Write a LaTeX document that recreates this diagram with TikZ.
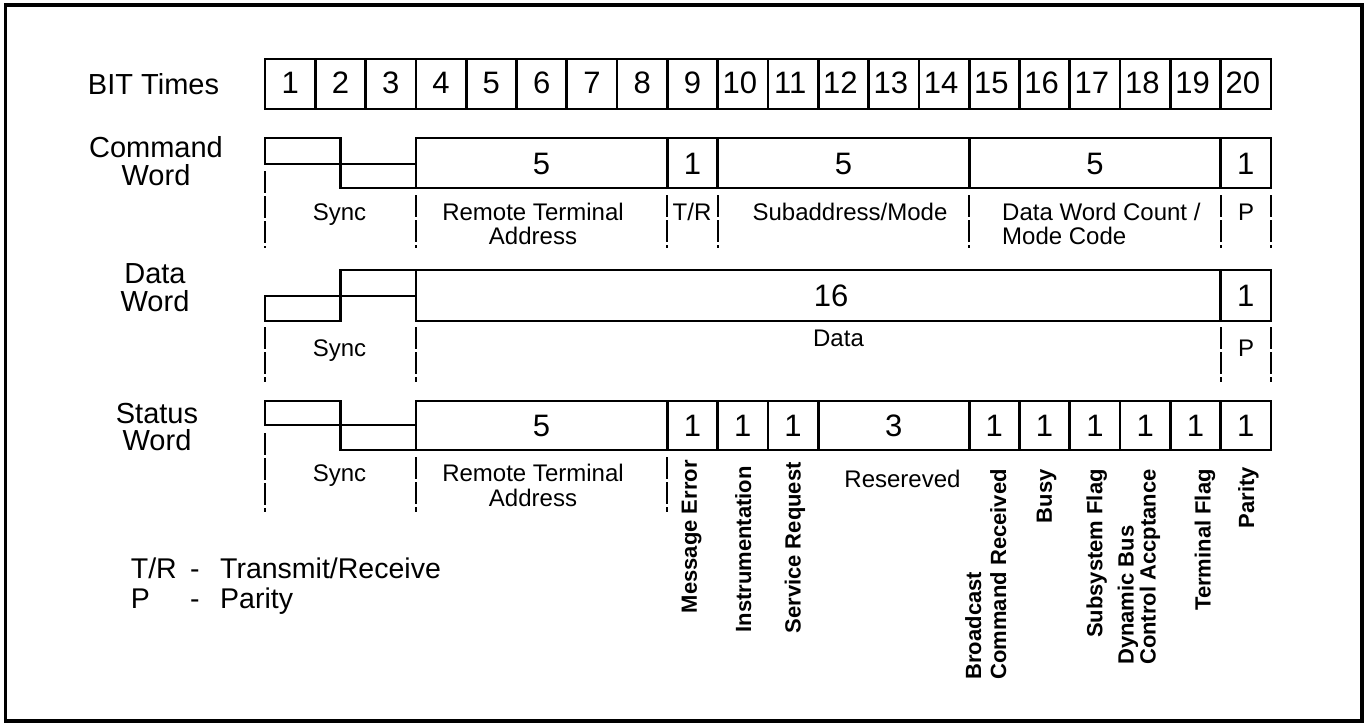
\documentclass[tikz,border=0pt]{standalone}
\usepackage{fontspec}
\setmainfont{Liberation Sans}
\begin{document}
\begin{tikzpicture}[x=1pt,y=-1pt,
  box/.style={line width=2.7pt, line join=miter, line cap=rect},
  sep/.style={line width=2pt, dash pattern=on 22pt off 3pt},
  lbl/.style={font=\fontsize{29}{28}\selectfont, inner sep=0pt, anchor=base},
  num/.style={font=\fontsize{31}{31}\selectfont, inner sep=0pt, anchor=base},
  fld/.style={font=\fontsize{24}{25}\selectfont, inner sep=0pt, anchor=base},
  leg/.style={font=\fontsize{28.5}{30}\selectfont, inner sep=0pt, anchor=base west},
  vlab/.style={font=\bfseries\fontsize{22}{25}\selectfont, inner sep=0pt, rotate=90, anchor=east, align=left}]
\useasboundingbox (0,0) rectangle (1366,723);
\draw[line width=3.5pt] (5.5,5) rectangle (1362,721);

% ---------- row labels
\node[lbl] (lbit) at (153.5,94.3) {BIT Times};
\node[lbl] (lcmd1) at (156,157.3) {Command};
\node[lbl] (lcmd2) at (156,185) {Word};
\node[lbl] (ldat1) at (155,283.3) {Data};
\node[lbl] (ldat2) at (155,311.7) {Word};
\node[lbl] (lsta1) at (157,423.3) {Status};
\node[lbl] (lsta2) at (157,450) {Word};

% ---------- bit times
\foreach \i in {1,...,20}{
  \pgfmathsetmacro{\xa}{265+(\i-1)*50.3}
  \pgfmathsetmacro{\xb}{\xa+50.3}
  \pgfmathsetmacro{\xc}{\xa+25.15-(\i>9)*3}
  \draw[box] (\xa,59) rectangle (\xb,109);
  \node[num] (b\i) at (\xc,93) {\i};
}

% ---------- command word
\draw[box] (265,164) -- (265,138) -- (340.45,138) -- (340.45,188) -- (1271,188) -- (1271,138) -- (415.9,138) -- (415.9,188);
\draw[box] (265,164) -- (415.9,164);
\foreach \x in {667.4,717.7,969.2,1220.7}{\draw[box] (\x,138) -- (\x,188);}
\node[num] (c1) at (541.6,174.5) {5};
\node[num] (c2) at (692.5,174.5) {1};
\node[num] (c3) at (843.5,174.5) {5};
\node[num] (c4) at (1095,174.5) {5};
\node[num] (c5) at (1245.8,174.5) {1};
\foreach \x in {415.9,667.4,717.7,969.2,1220.7,1271}{\draw[sep] (\x,195) -- (\x,248);}
\draw[sep] (265,171) -- (265,248);
\node[fld] (cs) at (339.5,220) {Sync};
\node[fld] (crt1) at (533,220) {Remote Terminal};
\node[fld] (crt2) at (533,244) {Address};
\node[fld] (ctr) at (692,220) {T/R};
\node[fld] (csub) at (850,220) {Subaddress/Mode};
\node[fld, anchor=base west] (cdw1) at (1002,220) {Data Word Count /};
\node[fld, anchor=base west] (cdw2) at (1002,244) {Mode Code};
\node[fld] (cp) at (1246,220) {P};

% ---------- data word
\draw[box] (265,296) -- (265,321) -- (340.45,321) -- (340.45,270) -- (1271,270) -- (1271,321) -- (415.9,321) -- (415.9,270);
\draw[box] (265,296) -- (415.9,296);
\draw[box] (1220.7,270) -- (1220.7,321);
\node[num] (d1) at (831,306.5) {16};
\node[num] (d2) at (1245.8,306.5) {1};
\foreach \x in {265,415.9,1220.7,1271}{\draw[sep] (\x,327) -- (\x,382);}
\node[fld] (ds) at (339.5,356) {Sync};
\node[fld] (dd) at (838.5,346.7) {Data};
\node[fld] (dp) at (1246,356) {P};

% ---------- status word
\draw[box] (265,425) -- (265,401) -- (340.45,401) -- (340.45,450) -- (1271,450) -- (1271,401) -- (415.9,401) -- (415.9,450);
\draw[box] (265,425) -- (415.9,425);
\foreach \x in {667.4,717.7,768,818.3,969.2,1019.5,1069.8,1120.1,1170.4,1220.7}{\draw[box] (\x,401) -- (\x,450);}
\node[num] (s1) at (541.6,436) {5};
\node[num] (s2) at (692.5,436) {1};
\node[num] (s3) at (742.8,436) {1};
\node[num] (s4) at (793.1,436) {1};
\node[num] (s5) at (893.7,436) {3};
\node[num] (s6) at (994.3,436) {1};
\node[num] (s7) at (1044.6,436) {1};
\node[num] (s8) at (1094.9,436) {1};
\node[num] (s9) at (1145.2,436) {1};
\node[num] (s10) at (1195.5,436) {1};
\node[num] (s11) at (1245.8,436) {1};
\draw[sep] (265,433) -- (265,512);
\foreach \x in {415.9,667.4}{\draw[sep] (\x,457) -- (\x,512);}
\node[fld] (ss) at (339.5,481.7) {Sync};
\node[fld] (srt1) at (533,481.7) {Remote Terminal};
\node[fld] (srt2) at (533,506) {Address};
\node[fld] (sres) at (902.5,487.3) {Resereved};
\node[vlab] (vme) at (691.7,460) {Message Error};
\node[vlab] (vin) at (743.3,466) {Instrumentation};
\node[vlab] (vsr) at (795,462) {Service Request};
\node[vlab] (vbc) at (985.8,469) {Broadcast\\Command Received};
\node[vlab] (vbu) at (1046.7,469) {Busy};
\node[vlab] (vss) at (1096.7,469) {Subsystem Flag};
\node[vlab, font=\bfseries\fontsize{22}{22}\selectfont] (vdb) at (1139,469) {Dynamic Bus\\Control Accptance};
\node[vlab] (vtf) at (1205,469) {Terminal Flag};
\node[vlab] (vpa) at (1248.3,467) {Parity};

% ---------- legend
\node[leg] (k1) at (130.7,578.3) {T/R};
\node[leg] (k2) at (190,578.3) {-};
\node[leg] (k3) at (220,578.3) {Transmit/Receive};
\node[leg] (k4) at (130.7,608) {P};
\node[leg] (k5) at (190,608) {-};
\node[leg] (k6) at (220,608) {Parity};
\end{tikzpicture}
\end{document}
